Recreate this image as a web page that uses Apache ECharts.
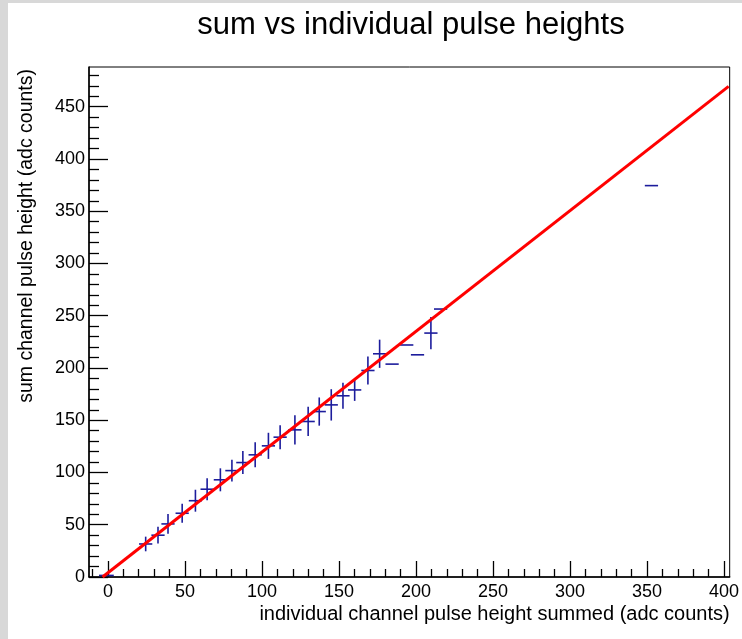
<!DOCTYPE html>
<html>
<head>
<meta charset="utf-8">
<script src="https://cdn.jsdelivr.net/npm/echarts@6/dist/echarts.min.js"></script>
<style>
html,body{margin:0;padding:0;background:#fff;}
#c{width:742px;height:639px;}
</style>
</head>
<body>
<div id="c"></div>
<script>
// measured points (x, y) with error half-widths
const ptX  = [-1, 24.5, 32.5, 39, 48.2, 56.8, 64.4, 73, 80.5, 87.6, 95.6, 104.2, 111.8, 121.4, 130, 137.2, 145, 152.6, 160.2, 168.8, 176.4, 184.5, 194, 201, 209.7, 216, 352.9];
const ptY  = [1.5, 31.6, 40, 50.8, 61, 73, 84, 93, 101.8, 109.5, 116.9, 125.5, 133.8, 140.8, 148.8, 158.3, 164.7, 173.4, 179, 197.6, 213.6, 203.7, 222, 212.6, 233.4, 256.4, 374.5];
const errX = [4.8, 4.3, 4.3, 4.3, 4.3, 4.3, 4.3, 4.3, 4.3, 4.3, 4.3, 4.3, 4.3, 4.3, 4.3, 4.3, 4.3, 4.3, 4.3, 4.3, 4.3, 4.3, 4.3, 4.3, 4.3, 4.3, 4.3];
const errY = [0, 7, 8, 9.5, 9, 10.5, 10.5, 11, 10.5, 11, 12, 12.5, 11.5, 14, 14, 13.5, 15, 12.5, 10.5, 13.5, 13.5, 0, 0, 0, 15.5, 0, 0];
// fit line end points
const fitX = [-3.5, 403];
const fitY = [0, 469.5];
// tick values
const xMajor = [0, 50, 100, 150, 200, 250, 300, 350, 400];
const xMinor = [-10,10,20,30,40,60,70,80,90,110,120,130,140,160,170,180,190,210,220,230,240,260,270,280,290,310,320,330,340,360,370,380,390];
const yMajor = [0, 50, 100, 150, 200, 250, 300, 350, 400, 450];
const yMinor = [10,20,30,40,60,70,80,90,110,120,130,140,160,170,180,190,210,220,230,240,260,270,280,290,310,320,330,340,360,370,380,390,410,420,430,440,460,470,480];

const FONT = '"Liberation Sans", Arial, Helvetica, sans-serif';
const xMin = -12.3, xMax = 403.7, yMin = 0, yMax = 488;

const pts = ptX.map((x, i) => [x, ptY[i], errX[i], errY[i]]);
const fit = fitX.map((x, i) => [x, fitY[i]]);

const chart = echarts.init(document.getElementById('c'), null, {renderer: 'canvas'});

const baseX = {type: 'value', min: xMin, max: xMax, gridIndex: 0, position: 'bottom', splitLine: {show: false}};
const baseY = {type: 'value', min: yMin, max: yMax, gridIndex: 0, position: 'left', splitLine: {show: false}};

chart.setOption({
  animation: false,
  backgroundColor: '#fff',
  graphic: [
    {type: 'rect', shape: {x: 0, y: 0, width: 8, height: 639}, style: {fill: '#d8d8d8'}, z: -10},
    {type: 'rect', shape: {x: 0, y: 0, width: 742, height: 3}, style: {fill: '#d8d8d8'}, z: -10}
  ],
  title: {
    text: 'sum vs individual pulse heights',
    left: 406, top: 5, textAlign: 'center',
    textStyle: {fontFamily: FONT, fontSize: 31, fontWeight: 'normal', color: '#000'}
  },
  grid: {left: 89, top: 67, right: 10, bottom: 62, show: true, borderColor: '#000', borderWidth: 1, backgroundColor: 'transparent'},
  xAxis: [
    Object.assign({}, baseX, {
      axisLine: {show: true, onZero: false, lineStyle: {color: '#000', width: 1.5}},
      axisTick: {show: true, inside: true, length: 16, customValues: xMajor, lineStyle: {color: '#000', width: 1.3}},
      axisLabel: {show: true, customValues: xMajor, margin: 6, color: '#000', fontFamily: FONT, fontSize: 18},
      name: 'individual channel pulse height summed (adc counts)',
      nameLocation: 'end',
      nameGap: 0,
      nameTextStyle: {fontFamily: FONT, fontSize: 20, color: '#000', align: 'right', verticalAlign: 'top', padding: [27, 0, 0, 0]}
    }),
    Object.assign({}, baseX, {
      axisLine: {show: false, onZero: false},
      axisTick: {show: true, inside: true, length: 8, customValues: xMinor, lineStyle: {color: '#000', width: 1.3}},
      axisLabel: {show: false}
    })
  ],
  yAxis: [
    Object.assign({}, baseY, {
      axisLine: {show: true, onZero: false, lineStyle: {color: '#000', width: 1.5}},
      axisTick: {show: true, inside: true, length: 19, customValues: yMajor, lineStyle: {color: '#000', width: 1.3}},
      axisLabel: {show: true, customValues: yMajor, margin: 4, color: '#000', fontFamily: FONT, fontSize: 18},
      name: 'sum channel pulse height (adc counts)',
      nameLocation: 'end',
      nameRotate: 90,
      nameGap: 0,
      nameTextStyle: {fontFamily: FONT, fontSize: 19.5, color: '#000', align: 'right', verticalAlign: 'bottom', padding: [0, 2, 52, 0]}
    }),
    Object.assign({}, baseY, {
      axisLine: {show: false, onZero: false},
      axisTick: {show: true, inside: true, length: 10, customValues: yMinor, lineStyle: {color: '#000', width: 1.3}},
      axisLabel: {show: false}
    })
  ],
  series: [
    {
      type: 'custom',
      xAxisIndex: 0, yAxisIndex: 0,
      data: pts,
      clip: true,
      z: 3,
      renderItem: function (params, api) {
        const x = api.value(0), y = api.value(1), ex = api.value(2), ey = api.value(3);
        const l = api.coord([x - ex, y]), r = api.coord([x + ex, y]);
        const children = [{
          type: 'line', shape: {x1: l[0], y1: l[1], x2: r[0], y2: r[1]},
          style: {stroke: '#1c1c9c', lineWidth: 1.6}
        }];
        if (ey > 0) {
          const t = api.coord([x, y + ey]), b = api.coord([x, y - ey]);
          children.push({
            type: 'line', shape: {x1: t[0], y1: t[1], x2: b[0], y2: b[1]},
            style: {stroke: '#1c1c9c', lineWidth: 1.6}
          });
        }
        return {type: 'group', children: children};
      }
    },
    {
      type: 'line',
      xAxisIndex: 0, yAxisIndex: 0,
      data: fit,
      symbol: 'none',
      z: 4,
      lineStyle: {color: '#ff0000', width: 3}
    }
  ]
});
</script>
</body>
</html>
